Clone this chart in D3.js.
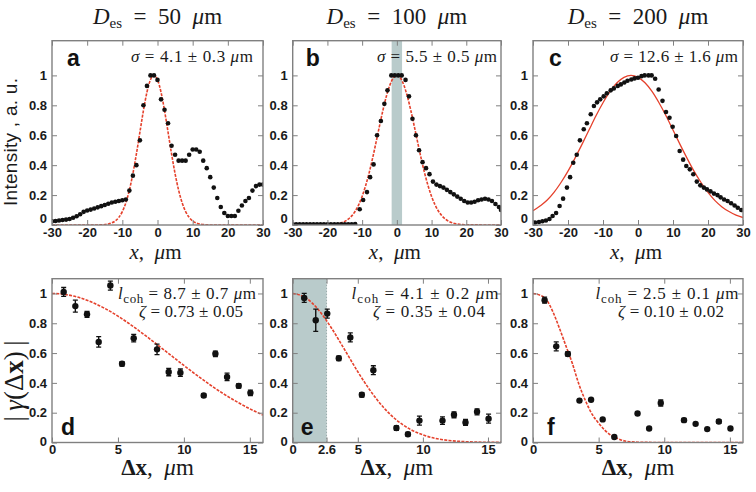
<!DOCTYPE html>
<html><head><meta charset="utf-8">
<script src="https://cdn.jsdelivr.net/npm/d3@7"></script>
<style>body{margin:0;background:#fff}</style>
</head><body><svg id="c" width="756" height="492"></svg>
<script>
// ---------- DATA ----------
const titles = ["50", "100", "200"];
const sigmaLabels = ["4.1 ± 0.3", "5.5 ± 0.5", "12.6 ± 1.6"];
const lcohLabels = ["8.7 ± 0.7", "4.1 ± 0.2", "2.5 ± 0.1"];
const zetaLabels = ["0.73 ± 0.05", "0.35 ± 0.04", "0.10 ± 0.02"];
const panelLetters = ["a", "b", "c", "d", "e", "f"];

const topXTicks = [-30, -20, -10, 0, 10, 20, 30];
const topYTicks = [0, 0.2, 0.4, 0.6, 0.8, 1];
const botXTicks = [0, 5, 10, 15];
const botXTicksE = [0, 2.6, 5, 10, 15];
const botYTicks = [0, 0.2, 0.4, 0.6, 0.8, 1];

// panel a intensity
const aX = [-30,-29,-28,-27,-26,-25,-24,-23,-22,-21,-20,-19,-18,-17,-16,-15,-14,-13,-12,-11,-10,-9,-8,-7,-6,-5,-4,-3,-2,-1,0,1,2,3,4,5,6,7,8,9,10,11,12,13,14,15,16,17,18,19,20,21,22,23,24,25,26,27,28,29,30];
const aY = [0.025,0.027,0.03,0.033,0.036,0.04,0.048,0.058,0.072,0.088,0.097,0.103,0.11,0.118,0.126,0.134,0.142,0.15,0.155,0.16,0.165,0.17,0.23,0.33,0.40,0.566,0.80,0.93,1.0,1.0,0.97,0.84,0.77,0.68,0.53,0.47,0.43,0.43,0.43,0.47,0.505,0.505,0.49,0.43,0.38,0.32,0.25,0.18,0.12,0.08,0.06,0.06,0.06,0.095,0.13,0.16,0.18,0.23,0.26,0.27,0.27];
// panel b intensity
const bX = [-30,-29,-28,-27,-26,-25,-24,-23,-22,-21,-20,-19,-18,-17,-16,-15,-14,-13,-12,-10.7,-9.7,-8.6,-7.7,-6.7,-5.7,-4.6,-3.6,-2.7,-1.6,-0.6,0.4,1.4,2.5,3.5,4.5,5.5,6.4,7.4,8.4,9.4,10.4,11.4,12.4,13.4,14.4,15.4,16.4,17.4,18.4,19.4,20.4,21.4,22.4,23.4,24.4,25.4,26.4,27.4,28.4,29.4,30];
const bY = [0.005,0.005,0.005,0.005,0.005,0.005,0.005,0.005,0.005,0.005,0.005,0.005,0.005,0.005,0.005,0.005,0.005,0.005,0.006,0.105,0.167,0.22,0.32,0.405,0.60,0.695,0.81,0.90,1.0,1.0,1.0,1.0,0.97,0.86,0.71,0.60,0.50,0.42,0.38,0.34,0.29,0.27,0.26,0.25,0.235,0.22,0.205,0.19,0.175,0.16,0.15,0.15,0.155,0.165,0.17,0.175,0.17,0.16,0.14,0.12,0.10];
// panel c intensity
const cX = [-29.4,-28.3,-27.3,-26.3,-25.3,-24.4,-23.4,-22.4,-21.4,-20.3,-19.4,-18.5,-17.5,-16.6,-15.5,-14.6,-13.5,-12.6,-11.7,-10.8,-9.8,-8.9,-7.8,-6.9,-5.8,-4.9,-3.9,-3.0,-1.9,-1.0,0,1.0,1.9,3.0,3.9,4.9,5.9,7.0,8.0,9.0,9.9,10.9,11.9,12.9,13.8,14.8,15.8,16.8,17.8,18.8,19.7,20.7,21.7,22.7,23.6,24.6,25.6,26.6,27.6,28.5,29.5];
const cY = [0.016,0.02,0.025,0.03,0.04,0.06,0.08,0.127,0.176,0.25,0.32,0.416,0.47,0.566,0.64,0.68,0.74,0.795,0.82,0.84,0.86,0.88,0.90,0.913,0.93,0.94,0.953,0.964,0.973,0.98,0.984,0.995,1.0,1.0,1.0,0.978,0.906,0.83,0.755,0.717,0.657,0.595,0.495,0.437,0.394,0.372,0.339,0.29,0.265,0.25,0.238,0.225,0.21,0.20,0.185,0.17,0.16,0.145,0.13,0.115,0.10];

// Gaussian fit curves
const fitAX = [-30,-18,-16,-14,-13,-12,-11,-10,-9,-8,-7,-6,-5,-4,-3,-2,-1,0,1,2,3,4,5,6,7,8,9,10,11,12,14,16,30];
const fitAY = [0,0,0.0012,0.0065,0.014,0.027,0.051,0.090,0.149,0.233,0.343,0.475,0.621,0.765,0.888,0.971,1,0.971,0.888,0.765,0.621,0.475,0.343,0.233,0.149,0.090,0.051,0.027,0.014,0.0065,0.0012,0,0];
const fitBX = [-30,-20,-18,-17,-16,-15,-14,-13,-12,-11,-10,-9,-8,-7,-6,-5,-4,-3,-2,-1,0,1,2,3,4,5,6,7,8,9,10,11,12,13,14,15,16,17,18,20,30];
const fitBY = [0,0.0014,0.0047,0.0085,0.0146,0.024,0.039,0.061,0.092,0.135,0.191,0.262,0.347,0.445,0.552,0.662,0.768,0.862,0.936,0.984,1,0.984,0.936,0.862,0.768,0.662,0.552,0.445,0.347,0.262,0.191,0.135,0.092,0.061,0.039,0.024,0.0146,0.0085,0.0047,0.0014,0];
const fitCX = [-30,-28,-26,-24,-22,-20,-18,-16,-14,-12,-10,-8,-6,-4,-2,0,2,4,6,8,10,12,14,16,18,20,22,24,26,28,30];
const fitCY = [0.095,0.127,0.165,0.218,0.284,0.360,0.447,0.539,0.635,0.730,0.817,0.893,0.951,0.987,1,0.987,0.951,0.893,0.817,0.730,0.635,0.539,0.447,0.360,0.284,0.218,0.163,0.121,0.09,0.066,0.05];

// coherence |gamma(dx)|
const dxVals = [0.885,1.77,2.655,3.54,4.425,5.31,6.195,7.965,8.85,9.735,11.505,12.39,13.275,14.16,15.045];
const dY = [1.01,0.915,0.86,0.675,1.053,0.528,0.70,0.625,0.473,0.468,0.315,0.595,0.44,0.38,0.333];
const dErr = [0.03,0.04,0.02,0.035,0.03,0.015,0.025,0.035,0.025,0.025,0.012,0.018,0.025,0.015,0.018];
const eY = [0.97,0.82,0.865,0.565,0.705,0.32,0.485,0.097,0.055,0.147,0.147,0.186,0.135,0.206,0.16];
const eErr = [0.03,0.075,0.03,0.015,0.03,0.015,0.03,0.015,0.012,0.03,0.025,0.02,0.02,0.02,0.03];
const fY = [0.955,0.645,0.594,0.281,0.287,0.155,0.037,0.195,0.094,0.265,0.15,0.125,0.09,0.141,0.094];
const fErr = [0.02,0.03,0.015,0.01,0.01,0.01,0.01,0.01,0.01,0.02,0.012,0.01,0.01,0.012,0.01];

const fitDX = [0,1,2,3,4,5,6,7,8,9,10,11,12,13,14,15,16];
const fitDY = [1,0.9934,0.974,0.942,0.900,0.848,0.788,0.723,0.655,0.586,0.517,0.450,0.386,0.327,0.274,0.226,0.184];
const fitEX = [0,1,2,3,4,5,6,7,8,9,10,11,12,13,14,15,16];
const fitEY = [1,0.971,0.888,0.765,0.621,0.475,0.343,0.233,0.149,0.090,0.051,0.027,0.0138,0.0066,0.0029,0.0012,0.0005];
const fitFX = [0,0.5,1,1.5,2,2.5,3,3.5,4,4.5,5,5.5,6,6.5,7,8,10,16];
const fitFY = [1,0.99,0.962,0.88,0.77,0.65,0.53,0.39,0.28,0.19,0.13,0.08,0.045,0.025,0.01,0.002,0,0];

const bandB = [-1.5, 1.5];
const bandE = [0, 2.6];

// ---------- DRAWING ----------
const svg = d3.select('#c');
const SERIF = '"Liberation Serif"';
const SANS = '"Liberation Sans"';
const FRAME = '#808080';
const RED = '#e5412c';
const BAND = '#b9cbcb';
const EN = '\u2002';

const colX = [[52, 263], [292.7, 501], [533, 743]];
const topRow = {top: 40.7, bottom: 225, domain: [0, 1.232]};
const botRow = {top: 278.7, bottom: 442.5, domain: [0, 1.099]};

// annotation widths measured on the reference (px)
const sigmaW = [122, 120, 128];
const sigmaGap = [10, 4, 5];
const lcohW = [138, 147, 143];
const zetaW = [104, 112, 106];

function mathText(g, x, y, parts, size, anchor, len) {
  const t = g.append('text').style('font-family', SERIF).attr('x', x).attr('y', y)
    .attr('font-size', size)
    .attr('text-anchor', anchor || 'middle').attr('fill', '#1a1a1a');
  if (len) t.attr('textLength', len).attr('lengthAdjust', 'spacing');
  parts.forEach(p => {
    const ts = t.append('tspan').style('font-family', SERIF).text(p.t);
    if (p.i) ts.attr('font-style', 'italic');
    if (p.b) ts.attr('font-weight', 'bold');
    if (p.s) ts.attr('font-size', p.s);
    if (p.dy) ts.attr('dy', p.dy);
  });
  return t;
}

let clipId = 0;
function panel(cfg) {
  const g = svg.append('g');
  const x = d3.scaleLinear().domain(cfg.xDomain).range(cfg.col);
  const y = d3.scaleLinear().domain(cfg.row.domain).range([cfg.row.bottom, cfg.row.top]);
  const id = 'clip' + (clipId++);
  g.append('clipPath').attr('id', id).append('rect')
    .attr('x', cfg.col[0]).attr('y', cfg.row.top)
    .attr('width', cfg.col[1] - cfg.col[0]).attr('height', cfg.row.bottom - cfg.row.top);
  const inner = g.append('g').attr('clip-path', `url(#${id})`);

  if (cfg.band) {
    inner.append('rect').attr('x', x(cfg.band[0])).attr('y', cfg.row.top)
      .attr('width', x(cfg.band[1]) - x(cfg.band[0])).attr('height', cfg.row.bottom - cfg.row.top)
      .attr('fill', BAND);
    if (cfg.bandLine) {
      inner.append('line').attr('x1', x(cfg.band[1])).attr('x2', x(cfg.band[1]))
        .attr('y1', cfg.row.top).attr('y2', cfg.row.bottom)
        .attr('stroke', '#9aa').attr('stroke-width', 1).attr('stroke-dasharray', '1.5,1.5');
    }
  }
  const fit = cfg.fitX.map((v, i) => [v, cfg.fitY[i]]);
  inner.append('path').datum(fit)
    .attr('d', d3.line().x(d => x(d[0])).y(d => y(d[1])).curve(d3.curveMonotoneX))
    .attr('fill', 'none').attr('stroke', RED).attr('stroke-width', cfg.dashed ? 1.6 : 1.3)
    .attr('stroke-dasharray', cfg.dashed ? '3,1.3' : null);
  if (cfg.err) {
    cfg.px.forEach((v, i) => {
      const e = cfg.err[i];
      if (e < 0.012) return;
      const cx = x(v), y1 = y(cfg.py[i] - e), y2 = y(cfg.py[i] + e);
      inner.append('line').attr('x1', cx).attr('x2', cx).attr('y1', y1).attr('y2', y2)
        .attr('stroke', '#111').attr('stroke-width', 1.4);
      [y1, y2].forEach(yy => inner.append('line').attr('x1', cx - 2.5).attr('x2', cx + 2.5)
        .attr('y1', yy).attr('y2', yy).attr('stroke', '#111').attr('stroke-width', 1.3));
    });
  }
  inner.selectAll('circle.pt').data(cfg.px.map((v, i) => [v, cfg.py[i]])).enter()
    .append('circle').attr('cx', d => x(d[0])).attr('cy', d => y(d[1]))
    .attr('r', cfg.r).attr('fill', '#111');

  const T = 5;
  const fmtY = d => d === 0 ? '0' : d === 1 ? '1' : d.toFixed(1);
  const ax = [
    [d3.axisBottom(x).tickValues(cfg.xTicks).tickSizeInner(-T).tickSizeOuter(0).tickPadding(cfg.xPad).tickFormat(d => String(d)), `translate(0,${cfg.row.bottom})`, 'b'],
    [d3.axisTop(x).tickValues(cfg.xTicks).tickSizeInner(-T).tickSizeOuter(0).tickFormat(''), `translate(0,${cfg.row.top})`, 't'],
    [d3.axisLeft(y).tickValues(cfg.yTicks).tickSizeInner(-T).tickSizeOuter(0).tickPadding(5).tickFormat(fmtY), `translate(${cfg.col[0]},0)`, 'l'],
    [d3.axisRight(y).tickValues(cfg.yTicks).tickSizeInner(-T).tickSizeOuter(0).tickFormat(''), `translate(${cfg.col[1]},0)`, 'r']
  ];
  ax.forEach(([a, tr, side]) => {
    const ag = g.append('g').attr('transform', tr).call(a);
    ag.select('.domain').remove();
    ag.selectAll('.tick line').attr('stroke', FRAME).attr('stroke-width', 1);
    ag.selectAll('.tick text').style('font-family', SANS).attr('font-size', 13)
      .attr('font-weight', 'bold').attr('fill', '#1a1a1a');
    if (side === 'l') ag.selectAll('.tick text').filter(d => d === 0).attr('y', -cfg.zeroLift);
  });
  g.append('rect').attr('x', cfg.col[0]).attr('y', cfg.row.top)
    .attr('width', cfg.col[1] - cfg.col[0]).attr('height', cfg.row.bottom - cfg.row.top)
    .attr('fill', 'none').attr('stroke', FRAME).attr('stroke-width', 1.4);

  g.append('text').style('font-family', SANS).attr('x', cfg.col[0] + cfg.letterDx).attr('y', cfg.letterY)
    .attr('font-weight', 'bold').attr('font-size', 23)
    .attr('fill', '#111').text(cfg.letter);
  return g;
}

const topData = [[aX, aY, fitAX, fitAY], [bX, bY, fitBX, fitBY], [cX, cY, fitCX, fitCY]];
const botData = [[dY, dErr, fitDX, fitDY], [eY, eErr, fitEX, fitEY], [fY, fErr, fitFX, fitFY]];
const topLetterDx = [15, 13, 16];
const botLetterDx = [9, 8, 14];

for (let k = 0; k < 3; k++) {
  const col = colX[k];
  const cx = (col[0] + col[1]) / 2;
  const [px, py, fx, fy] = topData[k];
  const g = panel({col, row: topRow, xDomain: [-30, 30], xTicks: topXTicks, yTicks: topYTicks,
    px, py, fitX: fx, fitY: fy, r: 2.3, dashed: k !== 2, xPad: 3, zeroLift: 6.5,
    band: k === 1 ? bandB : null, letter: panelLetters[k], letterDx: topLetterDx[k], letterY: 66});
  mathText(g, col[1] - sigmaGap[k], 62, [{t: 'σ', i: 1}, {t: ' = ' + sigmaLabels[k] + ' '}, {t: 'μ', i: 1}, {t: 'm'}], 17, 'end', sigmaW[k]);
  mathText(svg, cx, 24, [{t: 'D', i: 1}, {t: 'es', s: 15, dy: 4}, {t: EN + '=' + EN + titles[k] + EN, dy: -4}, {t: 'μ', i: 1}, {t: 'm'}], 23, 'middle');
  mathText(svg, cx - 2, 259, [{t: 'x', i: 1}, {t: ',' + EN}, {t: 'μ', i: 1}, {t: 'm'}], 21, 'middle');

  const [by, be, bfx, bfy] = botData[k];
  const g2 = panel({col, row: botRow, xDomain: [0, 16], xTicks: k === 1 ? botXTicksE : botXTicks, yTicks: botYTicks,
    px: dxVals, py: by, err: be, fitX: bfx, fitY: bfy, r: 3.2, dashed: true, xPad: 2, zeroLift: 1,
    band: k === 1 ? bandE : null, bandLine: true, letter: panelLetters[k + 3], letterDx: botLetterDx[k], letterY: 435});
  mathText(g2, col[1] - 76, 299, [{t: 'l', i: 1}, {t: 'coh', s: 13, dy: 4}, {t: ' = ' + lcohLabels[k] + ' ', dy: -4}, {t: 'μ', i: 1}, {t: 'm'}], 17, 'middle', lcohW[k]);
  mathText(g2, col[1] - 72, 317, [{t: 'ζ', i: 1}, {t: ' = ' + zetaLabels[k]}], 17, 'middle', zetaW[k]);
  mathText(svg, cx, 475, [{t: 'Δx', b: 1}, {t: ',' + EN}, {t: 'μ', i: 1}, {t: 'm'}], 23, 'middle');
}

svg.append('text').style('font-family', SANS).attr('transform', 'translate(17,142) rotate(-90)')
  .attr('text-anchor', 'middle').attr('font-size', 19)
  .attr('textLength', 128).attr('lengthAdjust', 'spacing')
  .attr('fill', '#1a1a1a').text('Intensity , a. u.');
const gl = svg.append('text').style('font-family', SERIF).attr('transform', 'translate(23,381) rotate(-90)')
  .attr('text-anchor', 'middle').attr('font-size', 27)
  .attr('fill', '#1a1a1a');
gl.append('tspan').style('font-family', SERIF).text('|' + '\u2009');
gl.append('tspan').style('font-family', SERIF).attr('font-style', 'italic').text('γ');
gl.append('tspan').style('font-family', SERIF).text('(Δ');
gl.append('tspan').style('font-family', SERIF).attr('font-weight', 'bold').text('x');
gl.append('tspan').style('font-family', SERIF).text(')' + '\u2009' + '|');
</script></body></html>
